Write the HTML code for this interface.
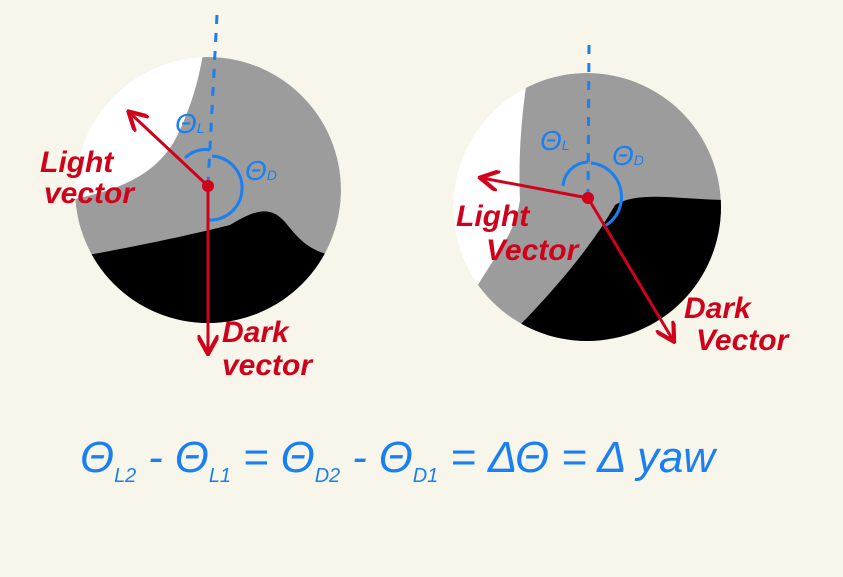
<!DOCTYPE html>
<html><head><meta charset="utf-8"><style>
html,body{margin:0;padding:0;background:#f8f6ea;}
svg{display:block}
text{font-family:"Liberation Sans",sans-serif;font-style:italic}
</style></head><body>
<svg width="843" height="577" viewBox="0 0 843 577">
<defs>
<clipPath id="c1"><circle cx="208" cy="190" r="133"/></clipPath>
<clipPath id="c2"><circle cx="587" cy="207" r="134"/></clipPath>
<marker id="ar" viewBox="0 0 10 10" refX="8" refY="5" markerWidth="7" markerHeight="7" orient="auto"><path d="M0,0 L9,5 L0,10" fill="none" stroke="#d0021b" stroke-width="2"/></marker>
</defs>
<rect width="843" height="577" fill="#f8f6ea"/>

<g clip-path="url(#c1)">
<circle cx="208" cy="190" r="133" fill="#9c9c9c"/>
<path d="M60,40 L205,40 C200,80 190,110 175,140 C155,175 120,190 70,200 Z" fill="#ffffff"/>
<path d="M70,258 C130,248 190,235 230,225 C255,210 270,205 285,222 C300,240 310,255 350,258 L350,340 L70,340 Z" fill="#000"/>
</g>
<g clip-path="url(#c2)">
<circle cx="587" cy="207" r="134" fill="#9c9c9c"/>
<path d="M440,60 L530,60 C522,110 518,150 520,200 C515,235 495,255 475,290 L440,290 Z" fill="#ffffff"/>
<path d="M515,330 C545,300 590,250 615,205 C640,190 680,200 730,200 L730,350 L515,350 Z" fill="#000"/>
</g>

<line x1="217" y1="15" x2="208" y2="185" stroke="#1a7ff0" stroke-width="3" stroke-dasharray="9,9"/>
<line x1="589" y1="45" x2="588" y2="195" stroke="#1a7ff0" stroke-width="3" stroke-dasharray="9,9"/>

<path d="M185,158 A28,28 0 0 1 210,150" fill="none" stroke="#1a7ff0" stroke-width="3"/>
<path d="M212,156 A30,30 0 1 1 208,220" fill="none" stroke="#1a7ff0" stroke-width="3"/>
<path d="M563,186 A26,26 0 0 1 588,162" fill="none" stroke="#1a7ff0" stroke-width="3"/>
<path d="M591,163 A34,34 0 0 1 605,226" fill="none" stroke="#1a7ff0" stroke-width="3"/>

<line x1="208" y1="186" x2="130" y2="113" stroke="#d0021b" stroke-width="3" marker-end="url(#ar)"/>
<line x1="208" y1="186" x2="208" y2="352" stroke="#d0021b" stroke-width="3" marker-end="url(#ar)"/>
<circle cx="208" cy="186" r="6" fill="#d0021b"/>
<line x1="588" y1="198" x2="482" y2="178" stroke="#d0021b" stroke-width="3" marker-end="url(#ar)"/>
<line x1="588" y1="198" x2="673" y2="340" stroke="#d0021b" stroke-width="3" marker-end="url(#ar)"/>
<circle cx="588" cy="198" r="6" fill="#d0021b"/>

<g fill="#d0021b" font-size="30" font-weight="bold">
<text x="40" y="172">Light</text>
<text x="44" y="203">vector</text>
<text x="222" y="342">Dark</text>
<text x="222" y="375">vector</text>
<text x="456" y="226">Light</text>
<text x="486" y="260">Vector</text>
<text x="684" y="318">Dark</text>
<text x="696" y="350">Vector</text>
</g>
<g fill="#1a7ff0" font-size="28">
<text x="175" y="133">Θ<tspan font-size="14">L</tspan></text>
<text x="245" y="180">Θ<tspan font-size="14">D</tspan></text>
<text x="540" y="150">Θ<tspan font-size="14">L</tspan></text>
<text x="612" y="165">Θ<tspan font-size="14">D</tspan></text>
</g>
<text x="80" y="472" fill="#1a7ff0" font-size="44" textLength="635" lengthAdjust="spacing">Θ<tspan font-size="20" dy="10">L2</tspan><tspan dy="-10"> - Θ</tspan><tspan font-size="20" dy="10">L1</tspan><tspan dy="-10"> = Θ</tspan><tspan font-size="20" dy="10">D2</tspan><tspan dy="-10"> - Θ</tspan><tspan font-size="20" dy="10">D1</tspan><tspan dy="-10"> = ΔΘ = Δ yaw</tspan></text>
</svg>
</body></html>
